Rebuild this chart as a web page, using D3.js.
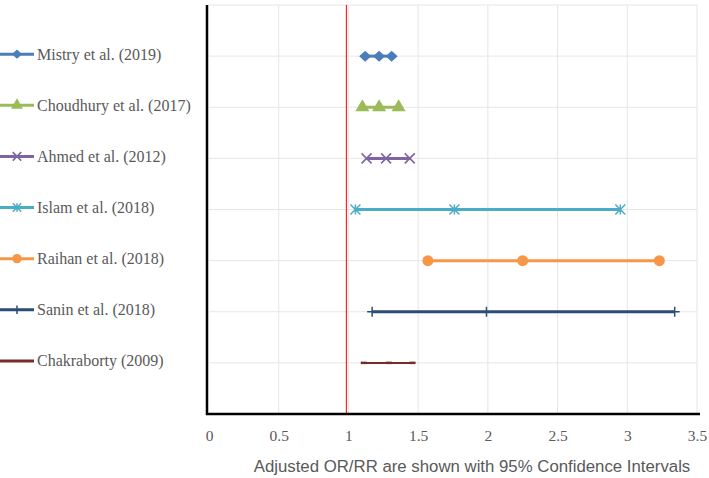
<!DOCTYPE html>
<html><head><meta charset="utf-8">
<script src="https://cdn.jsdelivr.net/npm/d3@7"></script>
<style>body{margin:0;background:#fff}svg{display:block}</style>
</head><body>
<svg id="c" width="709" height="478"></svg>
<script>
const studies = ["Mistry et al. (2019)","Choudhury et al. (2017)","Ahmed et al. (2012)","Islam et al. (2018)","Raihan et al. (2018)","Sanin et al. (2018)","Chakraborty (2009)"];
const lower = [1.12, 1.10, 1.13, 1.05, 1.57, 1.17, 1.11];
const estimate = [1.22, 1.22, 1.27, 1.76, 2.25, 1.99, 1.29];
const upper = [1.31, 1.36, 1.44, 2.95, 3.23, 3.34, 1.46];
const colors = ["#4a7ebb","#9bbb59","#8064a2","#4bacc6","#f79646","#2c4d75","#772c2a"];
const markers = ["diamond","triangle","x","asterisk","circle","plus","dash"];
const xTicks = [0,0.5,1,1.5,2,2.5,3,3.5];
const refValue = 1;
const xTitle = "Adjusted OR/RR are shown with 95% Confidence Intervals";

const svg = d3.select("#c");
const x = d3.scaleLinear().domain([0,3.5]).range([209,697]);
const y = d3.scaleLinear().domain([0,8]).range([414,5]);
const rowY = i => y(7 - i);

// gridlines
svg.append("g").selectAll("line.v").data(xTicks.slice(1)).join("line")
  .attr("x1",d=>x(d)).attr("x2",d=>x(d)).attr("y1",y(8)).attr("y2",y(0))
  .attr("stroke","#e6e6e6").attr("stroke-width",1);
svg.append("g").selectAll("line.h").data(d3.range(1,9)).join("line")
  .attr("x1",x(0)).attr("x2",x(3.5)).attr("y1",d=>y(d)).attr("y2",d=>y(d))
  .attr("stroke","#e6e6e6").attr("stroke-width",1);

// reference line
svg.append("line").attr("x1",x(refValue)-2).attr("x2",x(refValue)-2)
  .attr("y1",y(8)).attr("y2",y(0)).attr("stroke","#ff2020").attr("stroke-width",1.2);

// axes lines
svg.append("line").attr("x1",207).attr("x2",207).attr("y1",y(8)).attr("y2",y(0)+1)
  .attr("stroke","#000").attr("stroke-width",2.5);
svg.append("line").attr("x1",206).attr("x2",700).attr("y1",y(0)).attr("y2",y(0))
  .attr("stroke","#000").attr("stroke-width",2.5);

// x tick labels
const xAxis = d3.axisBottom(x).tickValues(xTicks).tickSize(0).tickPadding(0).tickFormat(d3.format(""));
const gx = svg.append("g").attr("transform",`translate(0,${y(0)+16})`).call(xAxis);
gx.select(".domain").remove();
gx.selectAll("text").attr("font-family","'Liberation Serif','DejaVu Serif',serif")
  .attr("font-size",15.5).attr("fill","#595959").attr("dy","0.71em");

svg.append("text").attr("x",472).attr("y",472).attr("text-anchor","middle")
  .attr("font-family","'Liberation Sans',Arial,sans-serif").attr("font-size",16.8)
  .attr("fill","#595959").text(xTitle);

function drawMarker(g, type, cx, cy, col, s){
  s = s || 1;
  if(type==="diamond"){
    const a=6*s, b=5.5*s;
    g.append("path").attr("d",`M${cx-a},${cy}L${cx},${cy-b}L${cx+a},${cy}L${cx},${cy+b}Z`).attr("fill",col);
  } else if(type==="triangle"){
    g.append("path").attr("d",d3.symbol(d3.symbolTriangle, 85*s*s)()).attr("transform",`translate(${cx},${cy})`).attr("fill",col);
  } else if(type==="circle"){
    g.append("circle").attr("cx",cx).attr("cy",cy).attr("r",5.5*s).attr("fill",col);
  } else if(type==="x"){
    const r=5*s;
    g.append("path").attr("d",`M${cx-r},${cy-r}L${cx+r},${cy+r}M${cx-r},${cy+r}L${cx+r},${cy-r}`).attr("stroke",col).attr("stroke-width",1.6);
  } else if(type==="asterisk"){
    const r=5*s;
    g.append("path").attr("d",`M${cx-r},${cy-r}L${cx+r},${cy+r}M${cx-r},${cy+r}L${cx+r},${cy-r}M${cx},${cy-r}L${cx},${cy+r}`).attr("stroke",col).attr("stroke-width",1.5);
  } else if(type==="plus"){
    const r=5*s;
    g.append("path").attr("d",`M${cx-r},${cy}L${cx+r},${cy}M${cx},${cy-r}L${cx},${cy+r}`).attr("stroke",col).attr("stroke-width",1.5);
  } else if(type==="dash"){
    g.append("path").attr("d",`M${cx-3},${cy}L${cx+3},${cy}`).attr("stroke",col).attr("stroke-width",2.5);
  }
}

// series
studies.forEach((s,i)=>{
  const g = svg.append("g");
  const cy = rowY(i);
  const w = markers[i]==="dash" ? 2 : 3;
  g.append("line").attr("x1",x(lower[i])).attr("x2",x(upper[i])).attr("y1",cy).attr("y2",cy)
    .attr("stroke",colors[i]).attr("stroke-width",w);
  [lower[i],estimate[i],upper[i]].forEach(v=>drawMarker(g, markers[i], x(v), cy, colors[i]));
});

// legend
studies.forEach((s,i)=>{
  const g = svg.append("g");
  const cy = rowY(i) - 2;
  g.append("line").attr("x1",0).attr("x2",34).attr("y1",cy).attr("y2",cy)
    .attr("stroke",colors[i]).attr("stroke-width",3);
  if(markers[i]!=="dash") drawMarker(g, markers[i], 17, cy, colors[i], 0.85);
  g.append("text").attr("x",37).attr("y",cy).attr("dy","0.35em")
    .attr("font-family","'Liberation Serif','DejaVu Serif',serif").attr("font-size",16)
    .attr("fill","#595959").text(s);
});
</script>
</body></html>
